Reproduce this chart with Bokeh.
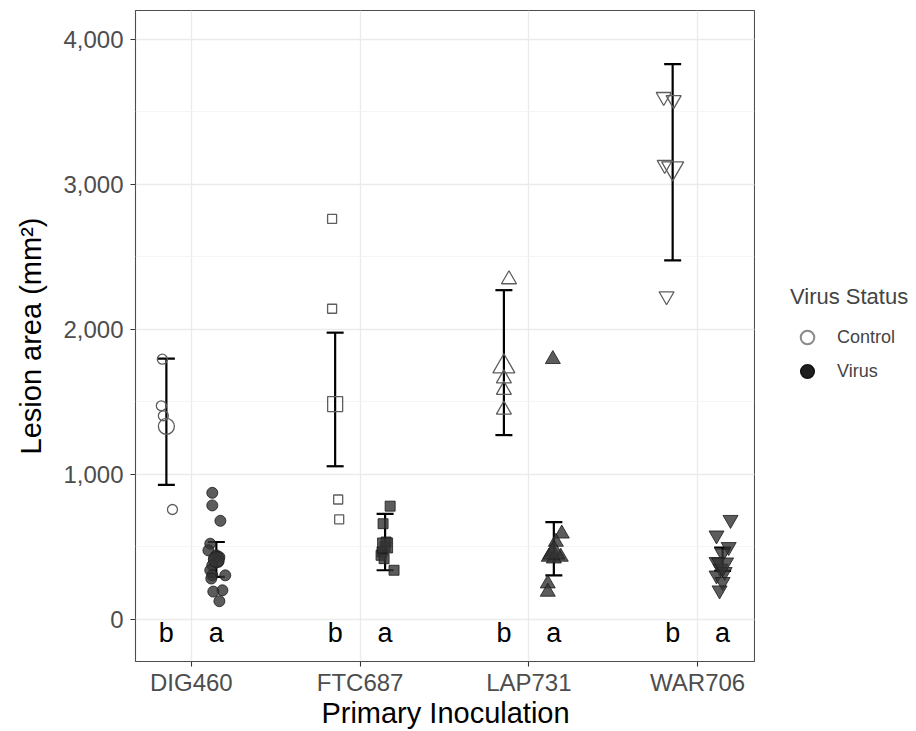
from bokeh.plotting import figure
from bokeh.layouts import row, column
from bokeh.models import (Range1d, FixedTicker, SingleIntervalTicker, NumeralTickFormatter,
                          ColumnDataSource, Whisker, TeeHead, Legend, LegendItem, Label)
from bokeh.core.properties import value
from bokeh.embed import file_html
from bokeh.resources import INLINE

FONT = "Liberation Sans"

strains = ["DIG460", "FTC687", "LAP731", "WAR706"]
shapes = ["circle", "square", "triangle", "inverted_triangle"]

# Control observations (mm^2) and read-off horizontal jitter (category units)
dig_ctrl = [1794, 1473, 1404, 758]
dig_ctrl_jit = [-0.024, -0.030, -0.018, 0.036]
ftc_ctrl = [2761, 2142, 827, 690]
ftc_ctrl_jit = [-0.018, -0.018, 0.018, 0.024]
lap_ctrl = [2344, 1661, 1581, 1445]
lap_ctrl_jit = [0.030, 0.0, 0.0, 0.0]
war_ctrl = [3603, 3581, 3134, 2229]
war_ctrl_jit = [-0.053, 0.006, -0.047, -0.036]

# Virus observations
dig_vir = [873, 786, 680, 522, 476, 442, 430, 419, 397, 373, 339, 304, 304, 282, 201, 192, 126]
dig_vir_jit = [-0.024, -0.024, 0.024, -0.036, -0.047, 0.0, 0.018, -0.012, 0.012, -0.024,
               -0.036, 0.053, -0.024, -0.030, 0.036, -0.018, 0.018]
ftc_vir = [781, 660, 534, 500, 467, 442, 419, 339]
ftc_vir_jit = [0.030, -0.012, 0.006, 0.0, -0.018, -0.024, -0.006, 0.053]
lap_vir = [1794, 591, 534, 465, 431, 431, 419, 247, 190]
lap_vir_jit = [-0.006, 0.047, 0.012, -0.006, -0.030, 0.041, 0.0, -0.036, -0.036]
war_vir = [687, 580, 500, 454, 397, 351, 328, 304, 259, 201]
war_vir_jit = [0.047, -0.036, 0.036, 0.0, -0.036, -0.012, 0.012, -0.036, 0.0, -0.018]

# Group means and error bars
ctrl_mean = [1331, 1485, 1744, 3111]
vir_mean = [413, 510, 460, 380]
ctrl_lo = [928, 1056, 1271, 2476]
ctrl_hi = [1798, 1977, 2270, 3828]
vir_lo = [293, 339, 304, 335]
vir_hi = [534, 728, 671, 495]
ctrl_letter = ["b", "b", "b", "b"]
vir_letter = ["a", "a", "a", "a"]
letter_y = -95

ctrl_pts = [(dig_ctrl, dig_ctrl_jit), (ftc_ctrl, ftc_ctrl_jit), (lap_ctrl, lap_ctrl_jit), (war_ctrl, war_ctrl_jit)]
vir_pts = [(dig_vir, dig_vir_jit), (ftc_vir, ftc_vir_jit), (lap_vir, lap_vir_jit), (war_vir, war_vir_jit)]

DODGE = 0.148
small = {"circle": 10, "square": 9, "triangle": 15, "inverted_triangle": 15}
vsize = {"circle": 11, "square": 10, "triangle": 15, "inverted_triangle": 15}
big = {"circle": 16, "square": 15, "triangle": 22, "inverted_triangle": 22}


def pts_source(groups, offset, sizes):
    d = dict(x=[], y=[], marker=[], size=[])
    for i, (vals, jit) in enumerate(groups):
        for v, j in zip(vals, jit):
            d["x"].append(i + 1 + offset + j)
            d["y"].append(v)
            d["marker"].append(shapes[i])
            d["size"].append(sizes[shapes[i]])
    return ColumnDataSource(d)


def mean_source(means, lo, hi, letters, offset, sizes):
    return ColumnDataSource(dict(
        x=[i + 1 + offset for i in range(len(strains))],
        y=means, lo=lo, hi=hi, letter=letters,
        ly=[letter_y] * len(strains),
        marker=shapes, size=[sizes[s] for s in shapes]))


TOTAL_W = 910
MAIN_W, MAIN_H = 755, 698
TITLE_H = 32
p = figure(width=MAIN_W, height=MAIN_H, output_backend="svg", toolbar_location=None,
           x_range=Range1d(0.669, 4.337), y_range=Range1d(-290, 4198),
           min_border_left=135, min_border_right=1, min_border_top=10, min_border_bottom=34)
p.background_fill_color = "white"
p.border_fill_color = "white"
p.outline_line_color = "#4d4d4d"
p.outline_line_width = 1.1

CTRL_LINE = "#5e5e5e"
VIR_FILL = "#333333"

src_cp = pts_source(ctrl_pts, -DODGE, small)
src_vp = pts_source(vir_pts, DODGE, vsize)
src_cm = mean_source(ctrl_mean, ctrl_lo, ctrl_hi, ctrl_letter, -DODGE, big)
src_vm = mean_source(vir_mean, vir_lo, vir_hi, vir_letter, DODGE, big)

p.scatter("x", "y", marker="marker", size="size", source=src_cp,
          fill_color=None, line_color=CTRL_LINE, line_width=1.3)
p.scatter("x", "y", marker="marker", size="size", source=src_cm,
          fill_color=None, line_color=CTRL_LINE, line_width=1.3)
p.scatter("x", "y", marker="marker", size="size", source=src_vp,
          fill_color=VIR_FILL, fill_alpha=0.8, line_color="#1a1a1a", line_alpha=0.8, line_width=1)
p.scatter("x", "y", marker="marker", size="size", source=src_vm,
          fill_color=VIR_FILL, fill_alpha=0.8, line_color="#1a1a1a", line_alpha=0.8, line_width=1)

for src in (src_cm, src_vm):
    w = Whisker(base="x", lower="lo", upper="hi", source=src, dimension="height",
                line_color="black", line_width=2.2,
                lower_head=TeeHead(size=17, line_color="black", line_width=2.2),
                upper_head=TeeHead(size=17, line_color="black", line_width=2.2))
    p.add_layout(w)
    p.text("x", "ly", text="letter", source=src, text_font=value(FONT), text_font_size="27px",
           text_align="center", text_baseline="middle", text_color="black")

# axes
p.xaxis.ticker = FixedTicker(ticks=[1, 2, 3, 4])
p.xaxis.major_label_overrides = {i + 1: s for i, s in enumerate(strains)}
p.yaxis.ticker = SingleIntervalTicker(interval=1000, num_minor_ticks=2)
p.yaxis.formatter = NumeralTickFormatter(format="0,0")
for ax in (p.xaxis, p.yaxis):
    ax.axis_line_color = None
    ax.major_tick_line_color = "#333333"
    ax.major_tick_line_width = 1.1
    ax.major_tick_in = 0
    ax.major_tick_out = 5
    ax.minor_tick_line_color = None
    ax.major_label_text_font = FONT
    ax.major_label_text_font_size = "24px"
    ax.major_label_text_color = "#4d4d4d"
    ax.axis_label_text_font = FONT
    ax.axis_label_text_font_size = "29px"
    ax.axis_label_text_font_style = "normal"
    ax.axis_label_text_color = "black"
p.yaxis.axis_label = "Lesion area (mm\u00b2)"
p.xaxis.major_label_standoff = 2
p.yaxis.major_label_standoff = 7
p.yaxis.axis_label_standoff = 13

p.xgrid.ticker = FixedTicker(ticks=[1, 2, 3, 4])
p.xgrid.grid_line_color = "#ebebeb"
p.xgrid.grid_line_width = 1.3
p.ygrid.grid_line_color = "#ebebeb"
p.ygrid.grid_line_width = 1.3
p.ygrid.minor_grid_line_color = "#f3f3f3"
p.ygrid.minor_grid_line_width = 0.8

# x-axis title strip below the plot
tf = figure(width=MAIN_W, height=TITLE_H, output_backend="svg", toolbar_location=None,
            x_range=Range1d(0, 1), y_range=Range1d(0, 1), min_border=0,
            x_axis_location=None, y_axis_location=None)
tf.grid.visible = False
tf.outline_line_color = None
tf.add_layout(Label(x=445, y=18, x_units="screen", y_units="screen", text="Primary Inoculation",
                    text_font=FONT, text_font_size="29px", text_color="black",
                    text_align="center", text_baseline="alphabetic"))

# legend panel on the right
lf = figure(width=TOTAL_W - MAIN_W, height=MAIN_H, output_backend="svg", toolbar_location=None,
            x_range=Range1d(0, 1), y_range=Range1d(0, 1), min_border=0,
            x_axis_location=None, y_axis_location=None)
lf.grid.visible = False
lf.outline_line_color = None
r_c = lf.scatter([-5], [-5], marker="circle", size=15, fill_color="white", line_color="#8a8a8a", line_width=2)
r_v = lf.scatter([-5], [-5], marker="circle", size=15, fill_color="#1e1e1e", line_color="#111111", line_width=1.5)
legend = Legend(items=[LegendItem(label="Control", renderers=[r_c]),
                       LegendItem(label="Virus", renderers=[r_v])],
                location=(35, 273), title="Virus Status",
                title_text_font=FONT, title_text_font_size="22px", title_text_font_style="normal",
                title_standoff=10,
                label_text_font=FONT, label_text_font_size="18px",
                glyph_width=34, glyph_height=34, label_height=20, label_standoff=13, spacing=0,
                padding=4, margin=0,
                background_fill_alpha=0, border_line_color=None)
lf.add_layout(legend, "center")

layout = column(row(p, lf), tf)
open("out.html", "w").write(file_html(layout, INLINE))
